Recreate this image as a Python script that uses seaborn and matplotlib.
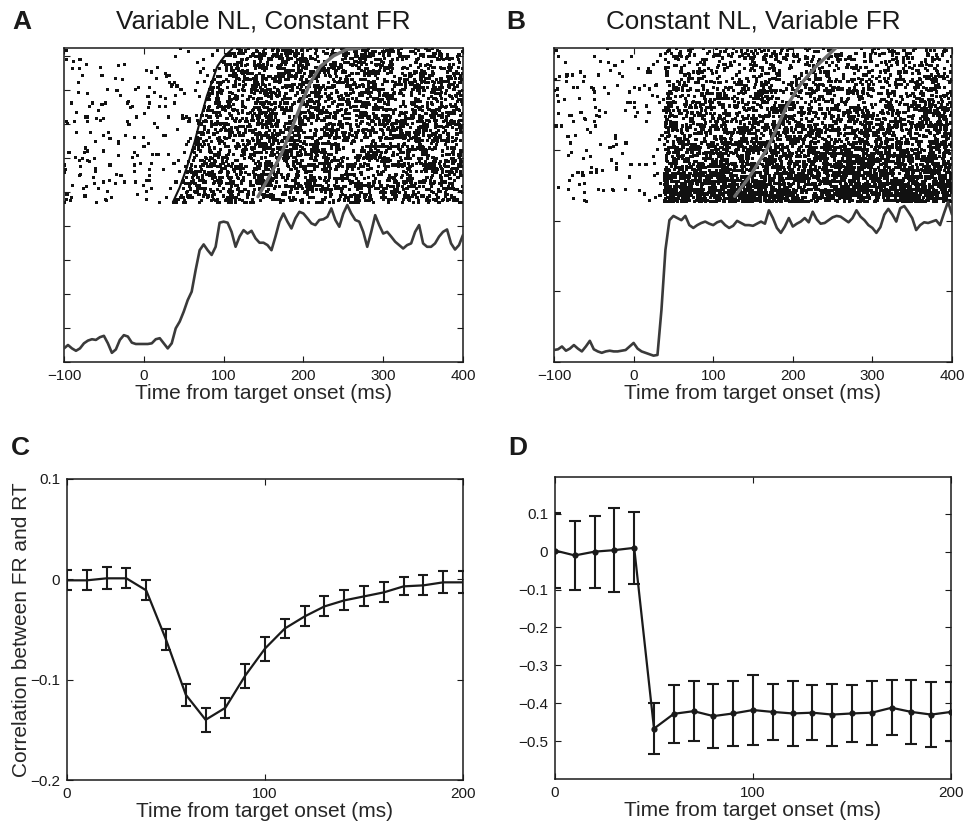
import numpy as np
import pandas as pd
import matplotlib
matplotlib.use("Agg")
import matplotlib.pyplot as plt
import seaborn as sns

# ---------------- data ----------------
# PSTH traces (axis units of each panel), sampled every 5 ms from -100 to 400 ms
PSTH_T = list(range(-100, 401, 5))
A_PSTH = [0.40, 0.50, 0.40, 0.33, 0.40, 0.55, 0.63, 0.67, 0.65, 0.73,
          0.77, 0.55, 0.27, 0.37, 0.65, 0.79, 0.75, 0.57, 0.53, 0.53,
          0.53, 0.53, 0.55, 0.67, 0.70, 0.55, 0.40, 0.55, 0.99, 1.19,
          1.48, 1.82, 2.07, 2.71, 3.29, 3.46, 3.29, 3.15, 3.39, 4.10,
          4.13, 4.10, 3.83, 3.39, 3.69, 3.88, 3.78, 3.86, 3.64, 3.51,
          3.51, 3.44, 3.29, 3.69, 4.13, 4.37, 4.13, 3.93, 4.23, 4.42,
          4.37, 4.23, 4.08, 4.03, 4.18, 4.20, 4.27, 4.52, 4.18, 3.98,
          4.37, 4.62, 4.37, 4.18, 4.13, 3.83, 3.39, 3.83, 4.32, 4.03,
          3.78, 3.83, 3.69, 3.54, 3.44, 3.34, 3.44, 3.49, 3.83, 4.03,
          3.49, 3.39, 3.39, 3.49, 3.69, 3.83, 3.90, 3.49, 3.31, 3.44,
          3.74]
B_PSTH = [0.17, 0.18, 0.22, 0.16, 0.19, 0.24, 0.19, 0.15, 0.22, 0.30,
          0.18, 0.15, 0.13, 0.15, 0.16, 0.15, 0.15, 0.16, 0.17, 0.22,
          0.27, 0.19, 0.15, 0.13, 0.11, 0.09, 0.10, 0.74, 1.59, 2.01,
          2.07, 2.04, 2.01, 2.07, 1.94, 1.90, 1.94, 1.97, 1.99, 1.96,
          1.94, 1.98, 2.00, 1.94, 1.90, 1.93, 2.00, 1.97, 1.94, 1.94,
          1.93, 1.96, 1.99, 1.96, 2.15, 2.04, 1.90, 1.83, 1.92, 2.04,
          1.92, 1.96, 1.99, 2.04, 1.98, 2.13, 2.02, 1.96, 1.97, 2.01,
          2.05, 2.07, 2.06, 2.02, 1.98, 2.04, 2.15, 2.06, 2.01, 1.94,
          1.90, 1.83, 1.91, 2.09, 2.17, 2.09, 1.99, 2.18, 2.21, 2.13,
          2.04, 1.87, 1.94, 1.98, 1.97, 1.99, 2.01, 1.94, 2.11, 2.27,
          2.09]

# Raster parameters (fraction of raster height from bottom -> value)
A_LAT_FRAC = [0.0, 0.10, 0.23, 0.40, 0.56, 0.69, 0.79, 0.88, 0.94, 1.0]
A_LAT_MS = [36, 45, 54, 64, 72, 79, 86, 92, 100, 112]          # neural latency
A_RT_FRAC = [0.04, 0.14, 0.30, 0.45, 0.62, 0.77, 0.88, 0.95, 0.99, 1.0]
A_RT_MS = [143, 154, 171, 183, 196, 208, 221, 238, 254, 271]    # reaction time
B_LAT_MS = 38
B_RATE_FRAC = [0.0, 0.25, 0.5, 0.75, 1.0]
B_RATE_HZ = [270, 170, 115, 75, 50]
A_RATE_HZ = 105
BASE_RATE_HZ = 11
B_RT_FRAC = [0.04, 0.17, 0.34, 0.47, 0.62, 0.76, 0.88, 1.0]
B_RT_MS = [127, 146, 167, 179, 192, 209, 229, 254]
N_TRIALS = 100

# Correlation curves
C_T = list(range(0, 201, 10))
C_R = [-0.001, -0.001, 0.001, 0.001, -0.011, -0.060, -0.115, -0.140, -0.128,
       -0.096, -0.069, -0.049, -0.037, -0.027, -0.021, -0.017, -0.013,
       -0.007, -0.006, -0.003, -0.003]
C_ERR = [0.010, 0.010, 0.011, 0.010, 0.010, 0.010, 0.011, 0.012, 0.010,
         0.012, 0.012, 0.009, 0.010, 0.010, 0.010, 0.010, 0.010, 0.009,
         0.010, 0.011, 0.011]
D_T = list(range(0, 201, 10))
D_R = [0.003, -0.010, 0.000, 0.004, 0.010, -0.467, -0.428, -0.421, -0.434,
       -0.427, -0.418, -0.423, -0.427, -0.425, -0.430, -0.427, -0.425,
       -0.412, -0.423, -0.430, -0.423]
D_ERR = [0.100, 0.090, 0.095, 0.110, 0.095, 0.068, 0.077, 0.079, 0.085,
         0.086, 0.093, 0.074, 0.086, 0.073, 0.082, 0.076, 0.084, 0.073,
         0.085, 0.086, 0.078]

# ---------------- style ----------------
sns.set_theme(style="ticks")
plt.rcParams['font.family'] = ['Liberation Sans', 'DejaVu Sans']
plt.rcParams['axes.unicode_minus'] = True
LBL = 15
TCK = 11
INK = '#1a1a1a'

fig = plt.figure(figsize=(9.66, 8.27), dpi=100)
W, H = 966, 827


def add_ax(l, t, r, b):
    return fig.add_axes([l / W, 1 - b / H, (r - l) / W, (b - t) / H])


def style_ax(ax):
    for s in ax.spines.values():
        s.set_linewidth(1.1)
        s.set_color(INK)
        s.set_visible(True)
    ax.tick_params(direction='in', length=4, width=0.8, colors=INK,
                   top=True, right=True, labelsize=TCK, pad=5)
    ax.set_facecolor('white')


axA = add_ax(64, 48, 463, 362)
axB = add_ax(554, 48, 952, 362)
axC = add_ax(67, 479, 463, 780)
axD = add_ax(555, 477, 951, 779)

rng = np.random.default_rng(7)  # spike-time texture only


def raster_df(latencies, rates, y0, y1):
    rows = []
    step = (y1 - y0) / N_TRIALS
    for i in range(N_TRIALS):
        yy = y0 + (i + 0.5) * step
        lat = latencies[i]
        nb = rng.poisson(BASE_RATE_HZ * (lat + 100) / 1000.0)
        tb = rng.uniform(-100, lat, nb)
        nr = rng.poisson(rates[i] * (400 - lat) / 1000.0)
        tr = rng.uniform(lat, 400, nr)
        for t in np.concatenate([tb, tr]):
            rows.append((t, yy))
    return pd.DataFrame(rows, columns=['t', 'y'])


def panel_raster(ax, psth, ylim, rb, lat, rates, rt_ms, rt_frac, onset_edge):
    y0, y1 = rb, ylim
    df = raster_df(lat, rates, y0, y1)
    sns.scatterplot(data=df, x='t', y='y', ax=ax, marker='s', s=5,
                    color='#111111', edgecolor='none', linewidth=0,
                    legend=False, zorder=2)
    if onset_edge:
        step = (y1 - y0) / N_TRIALS
        edge = pd.DataFrame({'t': lat,
                             'y': [y0 + (i + 0.5) * step for i in range(N_TRIALS)]})
        sns.lineplot(data=edge, x='t', y='y', ax=ax, sort=False, color='#111111',
                     linewidth=1.5, estimator=None, zorder=2)
    rt = pd.DataFrame({'t': rt_ms, 'y': [y0 + f * (y1 - y0) for f in rt_frac]})
    sns.lineplot(data=rt, x='t', y='y', ax=ax, sort=False, color='#6e6e6e',
                 linewidth=2.4, estimator=None, zorder=3)
    ps = pd.DataFrame({'t': PSTH_T, 'v': psth})
    sns.lineplot(data=ps, x='t', y='v', ax=ax, color='#3a3a3a', linewidth=1.9,
                 estimator=None, zorder=4)
    ax.set_xlim(-100, 400)
    ax.set_ylim(0, ylim)
    ax.set_xticks([-100, 0, 100, 200, 300, 400])
    ax.set_xticklabels(['\u2212100', '0', '100', '200', '300', '400'])
    ax.set_yticks(list(range(0, int(ylim) + 1)))
    ax.set_yticklabels([])
    ax.set_xlabel('Time from target onset (ms)', fontsize=LBL, labelpad=1)
    ax.set_ylabel('')
    style_ax(ax)


fracs = [(i + 0.5) / N_TRIALS for i in range(N_TRIALS)]
latA = np.interp(fracs, A_LAT_FRAC, A_LAT_MS)
panel_raster(axA, A_PSTH, 9.24, 4.68, latA, [A_RATE_HZ] * N_TRIALS,
             A_RT_MS, A_RT_FRAC, True)
ratesB = np.interp(fracs, B_RATE_FRAC, B_RATE_HZ)
panel_raster(axB, B_PSTH, 4.45, 2.26, [B_LAT_MS] * N_TRIALS, ratesB,
             B_RT_MS, B_RT_FRAC, False)

axA.set_title('Variable NL, Constant FR', fontsize=18.7, pad=14, color=INK)
axB.set_title('Constant NL, Variable FR', fontsize=18.7, pad=14, color=INK)

# Panel C
dfC = pd.DataFrame({'t': C_T, 'r': C_R})
axC.errorbar(C_T, C_R, yerr=C_ERR, fmt='none', ecolor=INK, elinewidth=1.5,
             capsize=3.5, capthick=1.5, zorder=3)
sns.lineplot(data=dfC, x='t', y='r', ax=axC, color=INK, linewidth=1.6,
             estimator=None, zorder=4)
axC.set_xlim(0, 200)
axC.set_ylim(-0.2, 0.1)
axC.set_xticks([0, 100, 200])
axC.set_xticklabels(['0', '100', '200'])
axC.set_yticks([-0.2, -0.1, 0, 0.1])
axC.set_yticklabels(['\u22120.2', '\u22120.1', '0', '0.1'])
axC.set_xlabel('Time from target onset (ms)', fontsize=LBL, labelpad=1)
axC.set_ylabel('Correlation between FR and RT', fontsize=LBL, labelpad=-1)
style_ax(axC)

# Panel D
dfD = pd.DataFrame({'t': D_T, 'r': D_R})
axD.errorbar(D_T, D_R, yerr=D_ERR, fmt='none', ecolor=INK, elinewidth=1.5,
             capsize=4.5, capthick=1.5, zorder=3)
sns.lineplot(data=dfD, x='t', y='r', ax=axD, color=INK, linewidth=1.6,
             marker='o', markersize=4.5, markeredgewidth=0, estimator=None,
             zorder=4)
axD.set_xlim(0, 200)
axD.set_ylim(-0.6, 0.197)
axD.set_xticks([0, 100, 200])
axD.set_xticklabels(['0', '100', '200'])
axD.set_yticks([-0.5, -0.4, -0.3, -0.2, -0.1, 0, 0.1])
axD.set_yticklabels(['\u22120.5', '\u22120.4', '\u22120.3', '\u22120.2',
                     '\u22120.1', '0', '0.1'])
axD.set_xlabel('Time from target onset (ms)', fontsize=LBL, labelpad=1)
axD.set_ylabel('')
style_ax(axD)

# Panel letters
for lab, x, y in [('A', 22, 22), ('B', 516, 22), ('C', 20, 448), ('D', 518, 448)]:
    fig.text(x / W, 1 - y / H, lab, fontsize=19, fontweight='bold',
             ha='center', va='center', color=INK)

fig.savefig('out.png', dpi=100, facecolor='white')
